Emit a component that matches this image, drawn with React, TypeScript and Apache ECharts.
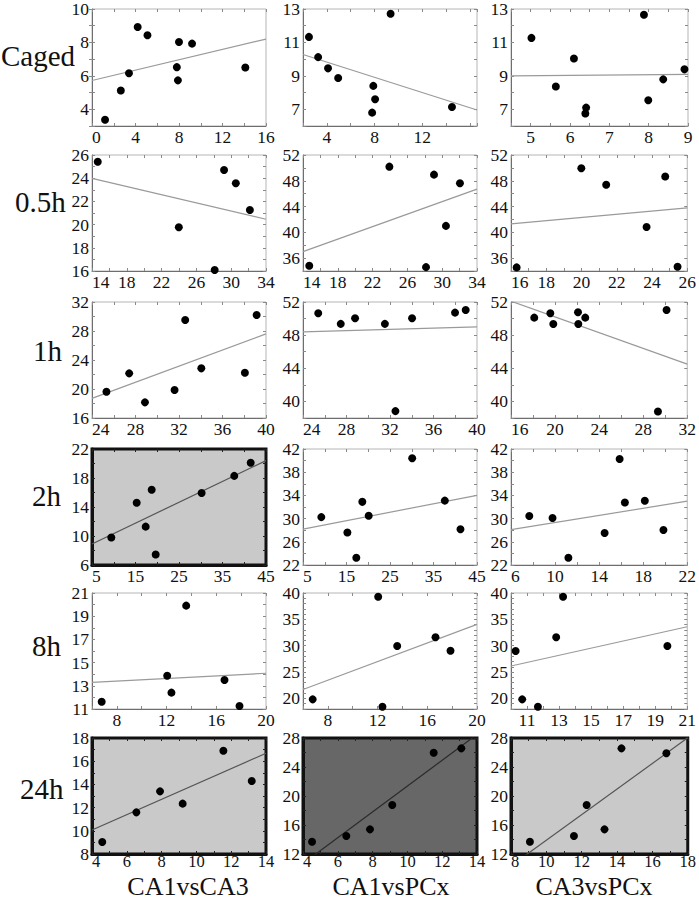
import React, { useEffect, useRef } from "react";
import * as echarts from "echarts";

// ---- labels ----
const rowNames = ["Caged", "0.5h", "1h", "2h", "8h", "24h"];
const colNames = ["CA1vsCA3", "CA1vsPCx", "CA3vsPCx"];

// ---- data: [x, y] points per panel ----
const cagedCA1CA3 = [[1.2, 3.37], [2.65, 5.12], [3.4, 6.16], [4.2, 8.92], [5.1, 8.43], [7.8, 6.52], [7.9, 5.73], [8.0, 8.03], [9.2, 7.93], [14.1, 6.5]];
const cagedCA1PCx = [[2.5, 11.33], [3.27, 10.12], [4.1, 9.45], [4.95, 8.87], [7.9, 8.4], [8.05, 7.6], [7.8, 6.8], [9.35, 12.72], [14.5, 7.14]];
const cagedCA3PCx = [[5.02, 11.27], [5.64, 8.36], [6.1, 10.04], [6.41, 7.1], [6.39, 6.75], [7.88, 12.66], [7.99, 7.54], [8.37, 8.79], [8.91, 9.39]];

const h05CA1CA3 = [[14.66, 25.42], [23.98, 19.77], [28.1, 16.08], [29.18, 24.7], [30.53, 23.56], [32.15, 21.26]];
const h05CA1PCx = [[14.72, 34.82], [23.93, 50.19], [28.14, 34.6], [29.06, 48.95], [30.43, 41.0], [32.04, 47.62]];
const h05CA3PCx = [[16.32, 34.56], [19.99, 49.95], [21.4, 47.38], [23.69, 40.82], [24.75, 48.67], [25.45, 34.66]];

const h1CA1CA3 = [[25.33, 19.63], [27.42, 22.16], [28.87, 18.16], [31.59, 19.86], [32.57, 29.52], [34.05, 22.85], [38.06, 22.25], [39.14, 30.2]];
const h1CA1PCx = [[25.4, 50.64], [27.47, 49.36], [28.79, 50.04], [31.53, 49.36], [32.5, 38.83], [34.03, 50.04], [37.98, 50.72], [38.96, 51.04]];
const h1CA3PCx = [[18.11, 50.11], [19.57, 50.64], [19.84, 49.35], [22.08, 50.76], [22.11, 49.35], [22.74, 50.11], [29.34, 38.78], [30.12, 51.04]];

const h2CA1CA3 = [[9.44, 9.8], [15.27, 14.58], [17.34, 11.29], [18.72, 16.39], [19.64, 7.44], [30.2, 15.93], [37.7, 18.29], [41.48, 20.1]];
const h2CA1PCx = [[9.21, 30.26], [15.2, 27.59], [17.25, 23.25], [18.64, 32.89], [20.1, 30.49], [30.1, 40.41], [37.6, 33.1], [41.2, 28.15]];
const h2CA3PCx = [[7.66, 30.45], [9.77, 30.1], [11.21, 23.24], [14.5, 27.53], [15.86, 40.28], [16.34, 32.79], [18.15, 33.08], [19.84, 28.04]];

const h8CA1CA3 = [[6.78, 11.63], [12.05, 13.87], [12.39, 12.41], [13.58, 19.91], [16.66, 13.5], [17.87, 11.26]];
const h8CA1PCx = [[6.78, 19.83], [12.05, 39.3], [12.39, 18.42], [13.58, 29.94], [16.66, 31.6], [17.87, 29.05]];
const h8CA3PCx = [[10.29, 29.0], [10.7, 19.83], [11.68, 18.42], [12.82, 31.6], [13.25, 39.3], [19.76, 29.94]];

const h24CA1CA3 = [[4.59, 9.03], [6.55, 11.59], [7.91, 13.4], [9.21, 12.34], [11.55, 16.9], [13.18, 14.29]];
const h24CA1PCx = [[4.52, 13.7], [6.49, 14.48], [7.85, 15.4], [9.13, 18.76], [11.51, 25.97], [13.1, 26.57]];
const h24CA3PCx = [[9.07, 13.7], [11.56, 14.48], [12.28, 18.76], [13.29, 15.4], [14.25, 26.57], [16.79, 25.9]];

// ---- regression line end points [x0, y0, x1, y1] ----
const fitLines = [
  [0, 5.72, 16, 8.2], [2, 10.28, 16.6, 6.96], [4.5, 9.0, 9, 9.09],
  [14, 23.99, 34, 20.46], [14, 37.0, 34, 46.7], [16, 41.3, 26, 43.8],
  [24, 18.7, 40, 27.6], [24, 48.4, 40, 49.0], [16, 52.1, 32, 44.5],
  [5, 8.9, 45, 20.4], [5, 28.2, 45, 34.0], [6, 28.1, 22, 33.0],
  [6, 13.3, 20, 14.08], [6, 21.7, 20, 34.06], [10, 26.15, 21, 33.6],
  [4, 10.07, 14, 16.68], [4, 10.69, 14, 28.49], [8, 10.37, 18, 28.02],
];

// ---- axes: [min, max, tick interval], tick labels ----
const xAxisRanges = [
  [0, 16, 2], [2, 16.6, 2], [4.5, 9, 0.5],
  [14, 34, 2], [14, 34, 2], [16, 26, 1],
  [24, 40, 2], [24, 40, 2], [16, 32, 2],
  [5, 45, 5], [5, 45, 5], [6, 22, 2],
  [6, 20, 2], [6, 20, 2], [10, 21, 1],
  [4, 14, 1], [4, 14, 1], [8, 18, 1],
];
const xTickLabels = [
  [0, 4, 8, 12, 16], [4, 8, 12], [5, 6, 7, 8, 9],
  [14, 18, 22, 26, 30, 34], [14, 18, 22, 26, 30, 34], [16, 18, 20, 22, 24, 26],
  [24, 28, 32, 36, 40], [24, 28, 32, 36, 40], [16, 20, 24, 28, 32],
  [5, 15, 25, 35, 45], [5, 15, 25, 35, 45], [6, 10, 14, 18, 22],
  [8, 12, 16, 20], [8, 12, 16, 20], [11, 13, 15, 17, 19, 21],
  [4, 6, 8, 10, 12, 14], [4, 6, 8, 10, 12, 14], [8, 10, 12, 14, 16, 18],
];
const yAxisRanges = [
  [3, 10, 1], [6, 13, 1], [6, 13, 1],
  [16, 26, 1], [34, 52, 2], [34, 52, 2],
  [16, 32, 2], [38, 52, 2], [38, 52, 2],
  [6, 22, 2], [22, 42, 2], [22, 42, 2],
  [11, 21, 1], [18, 40, 1], [18, 40, 1],
  [8, 18, 1], [12, 28, 2], [12, 28, 2],
];
const yTickLabels = [
  [4, 6, 8, 10], [7, 9, 11, 13], [7, 9, 11, 13],
  [16, 18, 20, 22, 24, 26], [36, 40, 44, 48, 52], [36, 40, 44, 48, 52],
  [16, 20, 24, 28, 32], [40, 44, 48, 52], [40, 44, 48, 52],
  [6, 10, 14, 18, 22], [22, 26, 30, 34, 38, 42], [22, 26, 30, 34, 38, 42],
  [11, 13, 15, 17, 19, 21], [20, 25, 30, 35, 40], [20, 25, 30, 35, 40],
  [8, 10, 12, 14, 16, 18], [12, 16, 20, 24, 28], [12, 16, 20, 24, 28],
];

const panelPoints = [
  cagedCA1CA3, cagedCA1PCx, cagedCA3PCx,
  h05CA1CA3, h05CA1PCx, h05CA3PCx,
  h1CA1CA3, h1CA1PCx, h1CA3PCx,
  h2CA1CA3, h2CA1PCx, h2CA3PCx,
  h8CA1CA3, h8CA1PCx, h8CA3PCx,
  h24CA1CA3, h24CA1PCx, h24CA3PCx,
];

// panel shading: "" white, "light", "dark"
const panelShade = [
  "", "", "",
  "", "", "",
  "", "", "",
  "light", "", "",
  "", "", "",
  "light", "dark", "light",
];

// ---- layout ----
const colLeft = [92, 303, 511];
const colWidth = [174, 174, 177];
const rowTop = [8, 155, 302, 449, 593, 738];
const rowHeight = [118, 116, 116, 116, 116, 116];
const rowLabelX = [1, 15, 33, 32, 32, 20];
const rowLabelY = [57, 203, 352, 497, 647, 790];
const colLabelX = [188, 391, 594];

const SERIF = "'Liberation Serif', 'Times New Roman', serif";

function fmt(labels: number[]) {
  return (v: number) => {
    const hit = labels.find((l) => Math.abs(l - v) < 1e-6);
    return hit === undefined ? "" : String(hit);
  };
}

function buildOption() {
  const grid: any[] = [];
  const xAxis: any[] = [];
  const yAxis: any[] = [];
  const series: any[] = [];

  panelPoints.forEach((pts, i) => {
    const r = Math.floor(i / 3);
    const c = i % 3;
    const shade = panelShade[i];
    const bg = shade === "light" ? "#c9c9c9" : shade === "dark" ? "#676767" : "#ffffff";
    const frame = shade ? "#111" : "#b5b5b5";
    const frameW = shade ? 3 : 1;
    const axisCol = shade ? "#111" : "#6e6e6e";
    const tickCol = shade ? "#222" : "#8a8a8a";
    const lineCol = shade === "dark" ? "#2a2a2a" : shade === "light" ? "#555" : "#9a9a9a";
    const lastRow = r === 5;

    grid.push({
      left: colLeft[c], top: rowTop[r], width: colWidth[c], height: rowHeight[r],
      show: true, backgroundColor: bg, borderColor: frame, borderWidth: frameW,
      containLabel: false,
    });

    const [xmin, xmax, xint] = xAxisRanges[i];
    const [ymin, ymax, yint] = yAxisRanges[i];

    const common = {
      type: "value", gridIndex: i, splitLine: { show: false },
    };
    xAxis.push({
      ...common, position: "bottom", min: xmin, max: xmax, interval: xint,
      axisLine: { show: true, onZero: false, lineStyle: { color: axisCol, width: frameW } },
      axisTick: { show: true, inside: true, length: 3, lineStyle: { color: tickCol } },
      axisLabel: {
        show: true, margin: lastRow ? -1 : 2, fontFamily: SERIF,
        fontSize: lastRow ? 16.5 : 17.5, color: "#111",
        formatter: fmt(xTickLabels[i]), showMinLabel: true, showMaxLabel: true,
        alignMinLabel: "left",
      },
    });
    xAxis.push({
      ...common, position: "top", min: xmin, max: xmax, interval: xint,
      axisLine: { show: false },
      axisTick: { show: true, inside: true, length: 3, lineStyle: { color: tickCol } },
      axisLabel: { show: false },
    });
    yAxis.push({
      ...common, position: "left", min: ymin, max: ymax, interval: yint,
      axisLine: { show: true, onZero: false, lineStyle: { color: axisCol, width: frameW } },
      axisTick: { show: true, inside: true, length: 3, lineStyle: { color: tickCol } },
      axisLabel: {
        show: true, margin: 3, fontFamily: SERIF, fontSize: 17.5, color: "#111",
        formatter: fmt(yTickLabels[i]), showMinLabel: true, showMaxLabel: true,
      },
    });
    yAxis.push({
      ...common, position: "right", min: ymin, max: ymax, interval: yint,
      axisLine: { show: false },
      axisTick: { show: true, inside: true, length: 3, lineStyle: { color: tickCol } },
      axisLabel: { show: false },
    });

    const f = fitLines[i];
    series.push({
      type: "line", xAxisIndex: i * 2, yAxisIndex: i * 2,
      data: [[f[0], f[1]], [f[2], f[3]]],
      symbol: "none", clip: true, silent: true,
      lineStyle: { color: lineCol, width: 1.2 }, z: 2,
    });
    series.push({
      type: "scatter", xAxisIndex: i * 2, yAxisIndex: i * 2,
      data: pts, symbol: "circle", symbolSize: 8,
      itemStyle: { color: "#000", opacity: 1 }, z: 3,
    });
  });

  const graphic: any[] = [];
  rowNames.forEach((name, r) => {
    graphic.push({
      type: "text", left: rowLabelX[r], top: rowLabelY[r] - 16,
      style: { text: name, font: `29px ${SERIF}`, fill: "#111", textAlign: "left" },
    });
  });
  colNames.forEach((name, c) => {
    graphic.push({
      type: "text", x: colLabelX[c], y: 899,
      style: {
        text: name, font: `26px ${SERIF}`, fill: "#111",
        textAlign: "center", textVerticalAlign: "bottom",
      },
    });
  });

  return {
    animation: false,
    backgroundColor: "#ffffff",
    grid, xAxis, yAxis, series, graphic,
  };
}

export default function App() {
  const ref = useRef<HTMLDivElement>(null);
  useEffect(() => {
    if (!ref.current) return;
    const chart = echarts.init(ref.current, undefined, { renderer: "svg" });
    chart.setOption(buildOption() as any);
    return () => chart.dispose();
  }, []);
  return (
    <div
      ref={ref}
      style={{ position: "absolute", left: 0, top: 0, width: 699, height: 900, background: "#fff" }}
    />
  );
}
